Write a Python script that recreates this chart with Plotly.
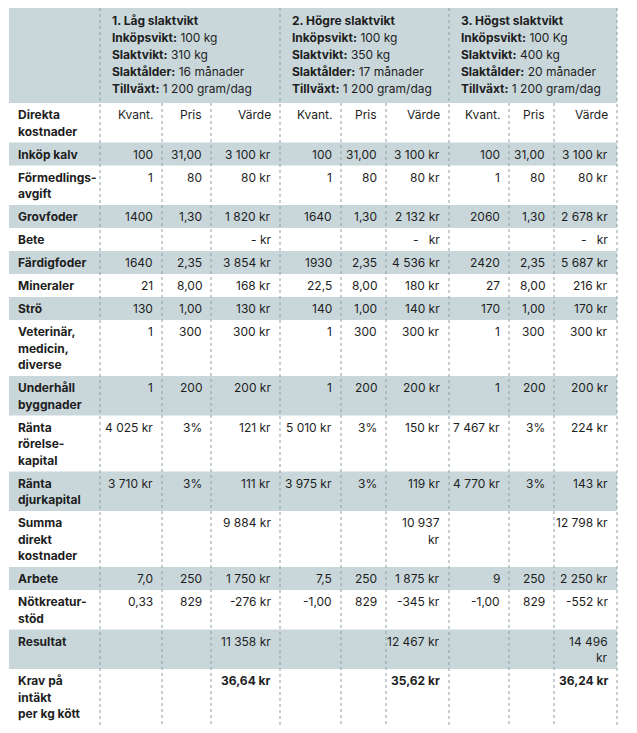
import plotly.graph_objects as go

# ---------------- data ----------------
group_titles = ["1. Låg slaktvikt", "2. Högre slaktvikt", "3. Högst slaktvikt"]
inkopsvikt = ["100 kg", "100 kg", "100 Kg"]
slaktvikt = ["310 kg", "350 kg", "400 kg"]
slaktalder = ["16 månader", "17 månader", "20 månader"]
tillvaxt = ["1 200 gram/dag", "1 200 gram/dag", "1 200 gram/dag"]

sub_label = "Direkta<br>kostnader"
sub_cols = ["Kvant.", "Pris", "Värde"]

row_labels = ["Inköp kalv", "Förmedlings-<br>avgift", "Grovfoder", "Bete", "Färdigfoder",
              "Mineraler", "Strö", "Veterinär,<br>medicin,<br>diverse", "Underhåll<br>byggnader",
              "Ränta<br>rörelse-<br>kapital", "Ränta<br>djurkapital", "Summa<br>direkt<br>kostnader",
              "Arbete", "Nötkreatur-<br>stöd", "Resultat", "Krav på<br>intäkt<br>per kg kött"]

kvant_1 = ["100", "1", "1400", "", "1640", "21", "130", "1", "1", "4 025 kr", "3 710 kr", "", "7,0", "0,33", "", ""]
pris_1 = ["31,00", "80", "1,30", "", "2,35", "8,00", "1,00", "300", "200", "3%", "3%", "", "250", "829", "", ""]
varde_1 = ["3 100 kr", "80 kr", "1 820 kr", "- kr", "3 854 kr", "168 kr", "130 kr", "300 kr", "200 kr",
           "121 kr", "111 kr", "9 884 kr", "1 750 kr", "-276 kr", "11 358 kr", "<b>36,64 kr</b>"]

kvant_2 = ["100", "1", "1640", "", "1930", "22,5", "140", "1", "1", "5 010 kr", "3 975 kr", "", "7,5", "-1,00", "", ""]
pris_2 = ["31,00", "80", "1,30", "", "2,35", "8,00", "1,00", "300", "200", "3%", "3%", "", "250", "829", "", ""]
varde_2 = ["3 100 kr", "80 kr", "2 132 kr", "-\u00a0\u00a0\u00a0kr", "4 536 kr", "180 kr", "140 kr", "300 kr", "200 kr",
           "150 kr", "119 kr", "10 937<br>kr", "1 875 kr", "-345 kr", "12 467 kr", "<b>35,62 kr</b>"]

kvant_3 = ["100", "1", "2060", "", "2420", "27", "170", "1", "1", "7 467 kr", "4 770 kr", "", "9", "-1,00", "", ""]
pris_3 = ["31,00", "80", "1,30", "", "2,35", "8,00", "1,00", "300", "200", "3%", "3%", "", "250", "829", "", ""]
varde_3 = ["3 100 kr", "80 kr", "2 678 kr", "-\u00a0\u00a0\u00a0kr", "5 687 kr", "216 kr", "170 kr", "300 kr", "200 kr",
           "224 kr", "143 kr", "12 798 kr", "2 250 kr", "-552 kr", "14 496<br>kr", "<b>36,24 kr</b>"]

groups = [(kvant_1, pris_1, varde_1), (kvant_2, pris_2, varde_2), (kvant_3, pris_3, varde_3)]

# ---------------- layout / style ----------------
W, H = 637, 733
BODY = 8  # default page margin around the figure
FONT = "Inter"
FS = 12
LH = 16.6
TXT = "#1e1e1e"
GREY = "#c9d7db"
DOT = "#8e9ea3"

col_edges = [9, 100, 162, 211, 280, 341, 386, 449, 509, 554, 617]
top = 8
header_bottom = 103
pad_r = 7


def nlines(s):
    return s.count("<br>") + 1


def row_h(n):
    return 6.5 + 16.5 * n


fig = go.Figure()
fig.add_trace(go.Scatter(x=[BODY, W - BODY], y=[BODY, H - BODY], mode="markers", marker=dict(opacity=0),
                         hoverinfo="skip", showlegend=False))

shapes = []
ann = []


def add_text(x, ytop, text, anchor, bold=False, first=11.5, lh=LH):
    for j, line in enumerate(text.split("<br>")):
        ann.append(dict(x=x, y=ytop + first + j * lh, xref="x", yref="y",
                        text=("<b>%s</b>" % line) if bold else line,
                        showarrow=False, xanchor=anchor, yanchor="middle", align=anchor,
                        font=dict(family=FONT, size=FS, color=TXT)))


# header band
shapes.append(dict(type="rect", xref="x", yref="y", x0=col_edges[0], x1=col_edges[-1], y0=top, y1=header_bottom,
                   fillcolor=GREY, line=dict(width=0), layer="below"))
for g in range(3):
    x0 = col_edges[1 + 3 * g] + 10
    txt = "<br>".join([
        "<b>%s</b>" % group_titles[g],
        "<b>Inköpsvikt:</b> %s" % inkopsvikt[g],
        "<b>Slaktvikt:</b> %s" % slaktvikt[g],
        "<b>Slaktålder:</b> %s" % slaktalder[g],
        "<b>Tillväxt:</b> %s" % tillvaxt[g],
    ])
    add_text(x0, top, txt, "left", first=12.5, lh=16.9)

# sub-header row
y = header_bottom
n = 2
add_text(16, y, sub_label, "left", bold=True)
for g in range(3):
    for c in range(3):
        add_text(col_edges[2 + 3 * g + c] - pad_r, y, sub_cols[c], "right")
y += row_h(n)

# body rows
for i, lab in enumerate(row_labels):
    cells = [lab] + [grp[k][i] for grp in groups for k in range(3)]
    n = max(nlines(s) for s in cells)
    h = row_h(n)
    if i % 2 == 0:
        shapes.append(dict(type="rect", xref="x", yref="y", x0=col_edges[0], x1=col_edges[-1], y0=y, y1=y + h,
                           fillcolor=GREY, line=dict(width=0), layer="below"))
    add_text(16, y, lab, "left", bold=True)
    for g in range(3):
        for k in range(3):
            v = groups[g][k][i]
            if v:
                add_text(col_edges[2 + 3 * g + k] - pad_r, y, v, "right")
    y += h

bottom = y

# dotted vertical lines
for j, xe in enumerate(col_edges[1:], start=1):
    major = (j - 1) % 3 == 0
    shapes.append(dict(type="line", xref="x", yref="y", x0=xe, x1=xe, y0=top if major else header_bottom,
                       y1=bottom, line=dict(color=DOT, width=1, dash="dot"), layer="above"))

fig.update_layout(
    width=W - 2 * BODY, height=H - 2 * BODY, margin=dict(l=0, r=0, t=0, b=0),
    paper_bgcolor="white", plot_bgcolor="white",
    xaxis=dict(range=[BODY, W - BODY], visible=False, fixedrange=True),
    yaxis=dict(range=[H - BODY, BODY], visible=False, fixedrange=True),
    shapes=shapes, annotations=ann, showlegend=False,
)

fig.write_html("out.html")
